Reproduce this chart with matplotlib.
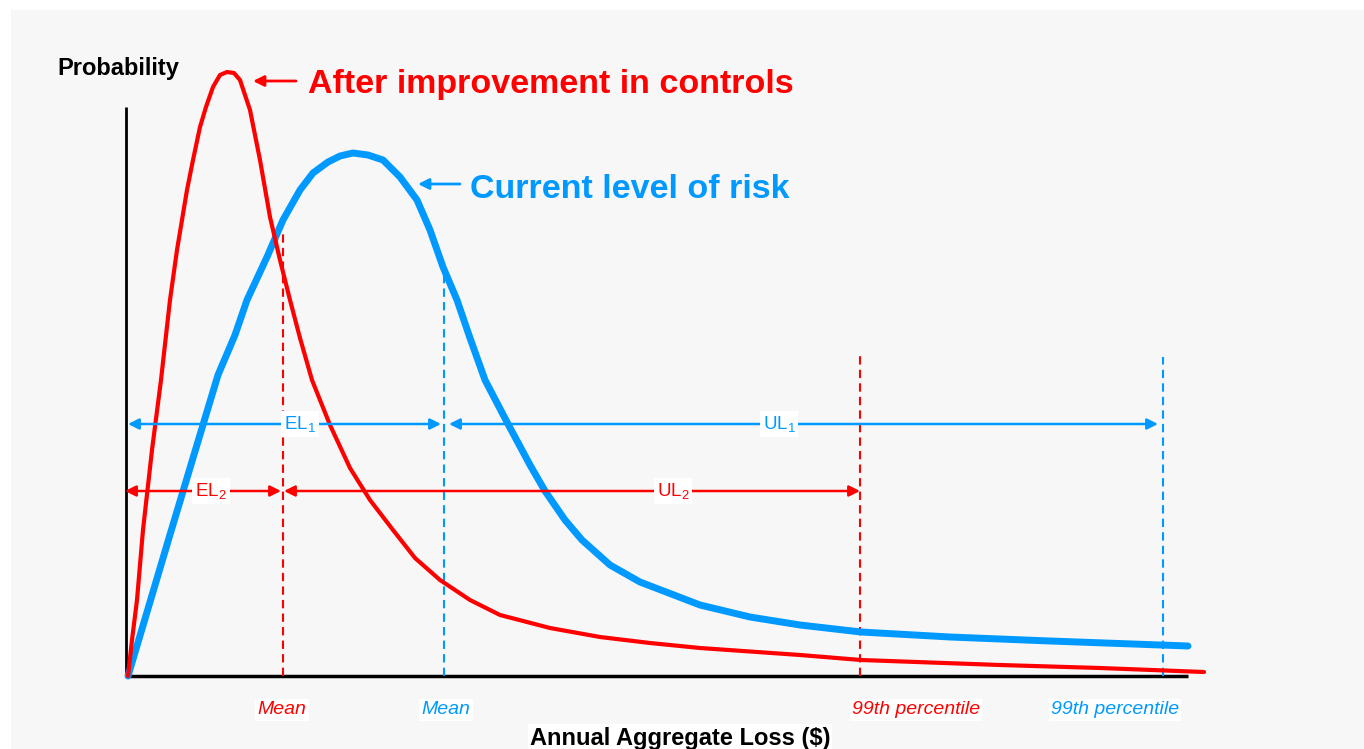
import matplotlib
matplotlib.use("Agg")
import matplotlib.pyplot as plt
from matplotlib.patches import Rectangle

plt.rcParams['font.family'] = ['Liberation Sans', 'DejaVu Sans']
plt.rcParams['mathtext.default'] = 'regular'

RED = '#ff0000'
BLUE = '#0099ff'

# Кривые распределения (условные единицы: потери, вероятность)
risk_x = [2, 24, 43, 64, 92, 109, 121, 141, 157, 174, 187, 202, 214, 227,
          242, 257, 274, 291, 304, 317, 331, 344, 359, 382, 404, 419, 439,
          456, 484, 514, 574, 624, 674, 735, 824, 924, 1062]
risk_y = [0, 74, 138, 208, 301, 341, 376, 419, 456, 486, 503, 514, 520, 523,
          521, 516, 499, 476, 446, 409, 376, 338, 296, 252, 211, 185, 156,
          136, 111, 94, 71, 59, 51, 44, 39, 35, 30]

ctrl_x = [2, 6, 11, 17, 26, 35, 44, 51, 61, 67, 74, 80, 87, 94, 101, 108,
          114, 124, 134, 144, 154, 164, 174, 186, 204, 224, 244, 267, 289,
          314, 344, 374, 424, 474, 524, 574, 674, 735, 874, 974, 1078]
ctrl_y = [0, 36, 76, 146, 226, 296, 376, 426, 486, 516, 549, 569, 589, 601,
          604, 603, 596, 566, 516, 459, 416, 376, 338, 296, 251, 208, 176,
          146, 118, 96, 76, 61, 48, 39, 33, 28, 21, 16, 11, 8, 4]

# Среднее и 99-й перцентиль
mean_x = [157, 318]
mean_top = [446, 406]
p99_x = [734, 1037]
p99_top = [324, 319]
axis_end_x = 1062
axis_top_y = 569

fig = plt.figure(figsize=(13.64, 7.49), dpi=100, facecolor='white')
fig.add_artist(Rectangle((11 / 1364, 0), 1, 1 - 10 / 749,
                         transform=fig.transFigure, facecolor='#f7f7f7',
                         edgecolor='none', zorder=0))
ax = fig.add_axes([0, 0, 1, 1])
ax.set_xlim(-126, 1238)
ax.set_ylim(-73, 676)
ax.axis('off')

# Оси
ax.plot([0, 0], [0, axis_top_y], color='black', lw=2, solid_capstyle='butt')
ax.plot([0, axis_end_x], [0, 0], color='black', lw=2.5, solid_capstyle='butt')

# Пунктирные линии
dash = (0, (4, 2.5))
ax.plot([mean_x[0]] * 2, [0, mean_top[0]], color=RED, lw=1.5, ls=dash)
ax.plot([mean_x[1]] * 2, [0, mean_top[1]], color=BLUE, lw=1.5, ls=dash)
ax.plot([p99_x[0]] * 2, [0, p99_top[0]], color=RED, lw=1.5, ls=dash)
ax.plot([p99_x[1]] * 2, [0, p99_top[1]], color=BLUE, lw=1.5, ls=dash)

# Кривые
ax.plot(risk_x, risk_y, color=BLUE, lw=5, solid_capstyle='round',
        solid_joinstyle='round', zorder=3)
ax.plot(ctrl_x, ctrl_y, color=RED, lw=3, solid_capstyle='round',
        solid_joinstyle='round', zorder=4)

# Стрелки EL / UL
def span(x0, x1, y, color, label, lx):
    ax.annotate('', xy=(x1, y), xytext=(x0, y),
                arrowprops=dict(arrowstyle='<|-|>', color=color, lw=1.8,
                                mutation_scale=16, shrinkA=0, shrinkB=0),
                zorder=5)
    ax.text(lx, y, label, color=color, fontsize=13.5, ha='center',
            va='center', zorder=6,
            bbox=dict(facecolor='white', edgecolor='none', pad=2))

span(2, 315, 252, BLUE, 'EL$_1$', 174)
span(323, 1032, 252, BLUE, 'UL$_1$', 653)
span(-1, 155, 185, RED, 'EL$_2$', 85)
span(158, 734, 185, RED, 'UL$_2$', 547)

# Подписи кривых
ax.annotate('', xy=(127, 595), xytext=(170, 595),
            arrowprops=dict(arrowstyle='-|>', color=RED, lw=2,
                            mutation_scale=16, shrinkA=0, shrinkB=0))
ax.text(182, 591, 'After improvement in controls', color=RED,
        fontsize=24.5, fontweight='bold', ha='left', va='center')
ax.annotate('', xy=(292, 492), xytext=(334, 492),
            arrowprops=dict(arrowstyle='-|>', color=BLUE, lw=2,
                            mutation_scale=16, shrinkA=0, shrinkB=0))
ax.text(344, 487, 'Current level of risk', color=BLUE,
        fontsize=24.5, fontweight='bold', ha='left', va='center')

ax.text(-69, 607, 'Probability', color='black', fontsize=17,
        fontweight='bold', ha='left', va='center')

# Подписи под осью
lab_box = dict(facecolor='white', edgecolor='none', pad=1.5)
ax.text(mean_x[0] - 1, -34, 'Mean', color=RED, fontsize=14, style='italic',
        ha='center', va='center', bbox=lab_box)
ax.text(mean_x[1] + 2, -34, 'Mean', color=BLUE, fontsize=14, style='italic',
        ha='center', va='center', bbox=lab_box)
ax.text(790, -34, '99th percentile', color=RED, fontsize=14, style='italic',
        ha='center', va='center', bbox=lab_box)
ax.text(989, -34, '99th percentile', color=BLUE, fontsize=14, style='italic',
        ha='center', va='center', bbox=lab_box)
ax.text(554, -62, 'Annual Aggregate Loss ($)', color='black', fontsize=17,
        fontweight='bold', ha='center', va='center', bbox=lab_box)

fig.savefig('out.png', dpi=100, facecolor='white')
